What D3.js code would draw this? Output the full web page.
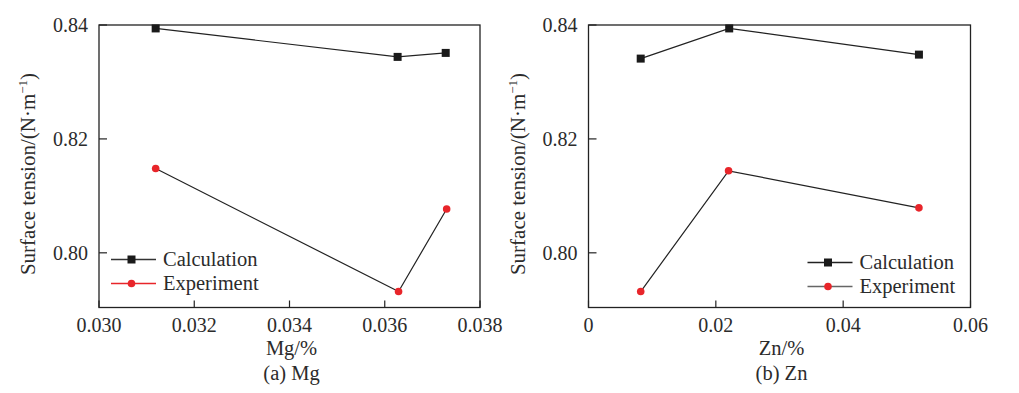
<!DOCTYPE html>
<html><head><meta charset="UTF-8"><script src="https://d3js.org/d3.v7.min.js"></script></head>
<body style="margin:0">
<script>
  // values
  const mgX = [0.03119, 0.03627, 0.03728];
  const mgCalc = [0.8394, 0.8344, 0.8351];
  const mgExpX = [0.03119, 0.03629, 0.03730];
  const mgExp = [0.8148, 0.7932, 0.8077];

  const znX = [0.0082, 0.0221, 0.0519];
  const znCalc = [0.8341, 0.8394, 0.8348];
  const znExpX = [0.0082, 0.0220, 0.0519];
  const znExp = [0.7932, 0.8144, 0.8079];

  const yTicks = [0.80, 0.82, 0.84];
  const mgTicks = [0.030, 0.032, 0.034, 0.036, 0.038];
  const znTicks = [0, 0.02, 0.04, 0.06];
  const seriesNames = ['Calculation', 'Experiment'];

  const W = 1019, H = 393;
  const TXT = '#2b2b2b';
  const red = '#e8252a';

  const svg = d3.select('body').append('svg')
    .attr('width', W).attr('height', H);

  // every text gets the serif face set directly
  function serif(sel, size) {
    return sel.style('font-family', '"Liberation Serif"').style('font-size', size + 'px').attr('fill', TXT);
  }

  function panel(opt) {
    const x = d3.scaleLinear().domain(opt.xDomain).range([opt.left, opt.right]);
    const y = d3.scaleLinear().domain([0.7904, 0.84]).range([307.5, 25]);
    const g = svg.append('g');

    g.append('rect')
      .attr('x', opt.left).attr('y', 25)
      .attr('width', opt.right - opt.left).attr('height', 282.5)
      .attr('fill', 'none').attr('stroke', '#222').attr('stroke-width', 1.3);

    // inward ticks, drawn by hand from the scales
    g.selectAll('.xt').data(opt.xTicks).enter().append('line')
      .attr('x1', d => x(d)).attr('x2', d => x(d)).attr('y1', 307.5).attr('y2', 300.5)
      .attr('stroke', '#222').attr('stroke-width', 1.2);
    serif(g.selectAll('.xl').data(opt.xTicks).enter().append('text'), 20)
      .attr('x', d => x(d)).attr('y', 332).attr('text-anchor', 'middle')
      .text(opt.xFormat);
    g.selectAll('.yt').data(yTicks).enter().append('line')
      .attr('x1', opt.left).attr('x2', opt.left + 8).attr('y1', d => y(d)).attr('y2', d => y(d))
      .attr('stroke', '#222').attr('stroke-width', 1.2);
    serif(g.selectAll('.yl').data(yTicks).enter().append('text'), 20)
      .attr('x', opt.left - 11).attr('y', d => y(d) + 7).attr('text-anchor', 'end')
      .text(d3.format('.2f'));

    const line = d3.line().x(d => x(d[0])).y(d => y(d[1]));
    const calc = opt.calcX.map((v, i) => [v, opt.calc[i]]);
    const exp = opt.expX.map((v, i) => [v, opt.exp[i]]);

    g.append('path').datum(calc).attr('d', line)
      .attr('fill', 'none').attr('stroke', '#222').attr('stroke-width', 1.2);
    g.append('path').datum(exp).attr('d', line)
      .attr('fill', 'none').attr('stroke', '#222').attr('stroke-width', 1.2);

    g.selectAll('.sq').data(calc).enter().append('rect')
      .attr('x', d => x(d[0]) - 4).attr('y', d => y(d[1]) - 4)
      .attr('width', 8).attr('height', 8).attr('fill', '#1a1a1a');
    g.selectAll('.dot').data(exp).enter().append('circle')
      .attr('cx', d => x(d[0])).attr('cy', d => y(d[1])).attr('r', 3.8)
      .attr('fill', red);

    // legend
    const lg = opt.legend;
    seriesNames.forEach((name, i) => {
      const ly = lg.y[i];
      g.append('line')
        .attr('x1', lg.x).attr('x2', lg.x + 45).attr('y1', ly).attr('y2', ly)
        .attr('stroke', lg.colors[i]).attr('stroke-width', 1.4);
      if (i === 0) {
        g.append('rect').attr('x', lg.x + 20.5 - 4).attr('y', ly - 4)
          .attr('width', 8).attr('height', 8).attr('fill', '#1a1a1a');
      } else {
        g.append('circle').attr('cx', lg.x + 20.5).attr('cy', ly).attr('r', 3.8).attr('fill', red);
      }
      serif(g.append('text'), 20.5).attr('x', lg.x + 52).attr('y', ly + 6).text(name);
    });

    // axis titles
    const cx = (opt.left + opt.right) / 2 + 2;
    serif(g.append('text'), 20.5).attr('x', cx).attr('y', 355).attr('text-anchor', 'middle').text(opt.xLabel);
    serif(g.append('text'), 20.5).attr('x', cx).attr('y', 380).attr('text-anchor', 'middle').text(opt.caption);

    const yl = serif(g.append('text'), 21)
      .attr('transform', `translate(${opt.left - 64},174) rotate(-90)`)
      .attr('text-anchor', 'middle');
    yl.append('tspan').text('Surface tension/(N·m');
    yl.append('tspan').style('font-size', '13px').attr('dy', -8).text('−1');
    yl.append('tspan').attr('dy', 8).text(')');
  }

  panel({
    left: 99, right: 480, xDomain: [0.030, 0.038], xTicks: mgTicks,
    xFormat: d3.format('.3f'),
    calcX: mgX, calc: mgCalc, expX: mgExpX, exp: mgExp,
    legend: { x: 111, y: [259.5, 283.5], colors: ['#333', red] },
    xLabel: 'Mg/%', caption: '(a) Mg'
  });

  panel({
    left: 588.5, right: 970.5, xDomain: [0, 0.06], xTicks: znTicks,
    xFormat: d => d === 0 ? '0' : d3.format('.2f')(d),
    calcX: znX, calc: znCalc, expX: znExpX, exp: znExp,
    legend: { x: 807.5, y: [262.5, 286.5], colors: ['#222', '#666'] },
    xLabel: 'Zn/%', caption: '(b) Zn'
  });
</script>
</body>
</html>
